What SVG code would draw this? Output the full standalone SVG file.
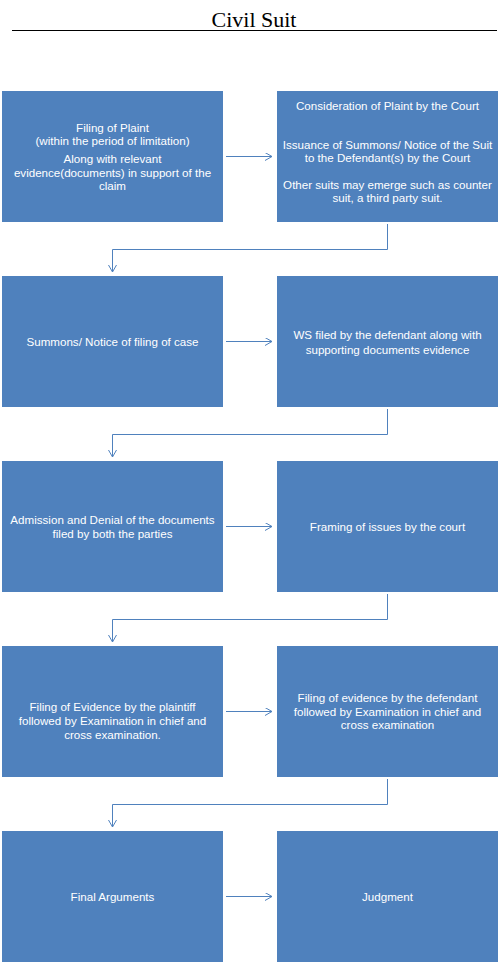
<svg xmlns="http://www.w3.org/2000/svg" width="500" height="966" viewBox="0 0 500 966">
<style>
.box{fill:#4F81BD;}
.t{font-family:"Liberation Sans",Arial,sans-serif;font-size:11.6px;fill:#ffffff;text-anchor:middle;}
.c{fill:none;stroke:#4F81BD;stroke-width:1;}
.title{font-family:"Liberation Serif","Times New Roman",serif;font-size:22px;fill:#000;text-anchor:middle;}
</style>
<defs>
<marker id="ah" markerWidth="10" markerHeight="10" refX="8" refY="4" orient="auto" markerUnits="userSpaceOnUse">
<path d="M1,0 L8,4 L1,8" fill="none" stroke="#4F81BD" stroke-width="1"/>
</marker>
</defs>
<rect width="500" height="966" fill="#ffffff"/>
<text class="title" x="254" y="27">Civil Suit</text>
<line x1="12" y1="30.5" x2="497" y2="30.5" stroke="#000" stroke-width="1"/>

<g id="n1"><rect class="box" x="2" y="91" width="221" height="131"/>
<text class="t" x="112.5" y="132">Filing of Plaint</text>
<text class="t" x="112.5" y="145">(within the period of limitation)</text>
<text class="t" x="112.5" y="163">Along with relevant</text>
<text class="t" x="112.5" y="177">evidence(documents) in support of the</text>
<text class="t" x="112.5" y="190">claim</text></g>
<g id="n2"><rect class="box" x="277" y="91" width="221" height="131"/>
<text class="t" x="387.5" y="110">Consideration of Plaint by the Court</text>
<text class="t" x="387.5" y="149">Issuance of Summons/ Notice of the Suit</text>
<text class="t" x="387.5" y="162">to the Defendant(s) by the Court</text>
<text class="t" x="387.5" y="189">Other suits may emerge such as counter</text>
<text class="t" x="387.5" y="202">suit, a third party suit.</text></g>

<g id="n3"><rect class="box" x="2" y="276" width="221" height="131"/>
<text class="t" x="112.5" y="346">Summons/ Notice of filing of case</text></g>
<g id="n4"><rect class="box" x="277" y="276" width="221" height="131"/>
<text class="t" x="387.5" y="339">WS filed by the defendant along with</text>
<text class="t" x="387.5" y="354">supporting documents evidence</text></g>

<g id="n5"><rect class="box" x="2" y="461" width="221" height="131"/>
<text class="t" x="112.5" y="524">Admission and Denial of the documents</text>
<text class="t" x="112.5" y="538">filed by both the parties</text></g>
<g id="n6"><rect class="box" x="277" y="461" width="221" height="131"/>
<text class="t" x="387.5" y="531">Framing of issues by the court</text></g>

<g id="n7"><rect class="box" x="2" y="646" width="221" height="131"/>
<text class="t" x="112.5" y="711">Filing of Evidence by the plaintiff</text>
<text class="t" x="112.5" y="725">followed by Examination in chief and</text>
<text class="t" x="112.5" y="739">cross examination.</text></g>
<g id="n8"><rect class="box" x="277" y="646" width="221" height="131"/>
<text class="t" x="387.5" y="702">Filing of evidence by the defendant</text>
<text class="t" x="387.5" y="716">followed by Examination in chief and</text>
<text class="t" x="387.5" y="729">cross examination</text></g>

<g id="n9"><rect class="box" x="2" y="831" width="221" height="131"/>
<text class="t" x="112.5" y="901">Final Arguments</text></g>
<g id="n10"><rect class="box" x="277" y="831" width="221" height="131"/>
<text class="t" x="387.5" y="901">Judgment</text></g>

<g id="connectors">
<line class="c" x1="226" y1="156.5" x2="272" y2="156.5" marker-end="url(#ah)"/>
<line class="c" x1="226" y1="341.5" x2="272" y2="341.5" marker-end="url(#ah)"/>
<line class="c" x1="226" y1="526.5" x2="272" y2="526.5" marker-end="url(#ah)"/>
<line class="c" x1="226" y1="711.5" x2="272" y2="711.5" marker-end="url(#ah)"/>
<line class="c" x1="226" y1="896.5" x2="272" y2="896.5" marker-end="url(#ah)"/>
<polyline class="c" points="387.5,224 387.5,249.5 112.5,249.5 112.5,272" marker-end="url(#ah)"/>
<polyline class="c" points="387.5,409 387.5,434.5 112.5,434.5 112.5,457" marker-end="url(#ah)"/>
<polyline class="c" points="387.5,594 387.5,619.5 112.5,619.5 112.5,642" marker-end="url(#ah)"/>
<polyline class="c" points="387.5,779 387.5,804.5 112.5,804.5 112.5,827" marker-end="url(#ah)"/>
</g>
</svg>
